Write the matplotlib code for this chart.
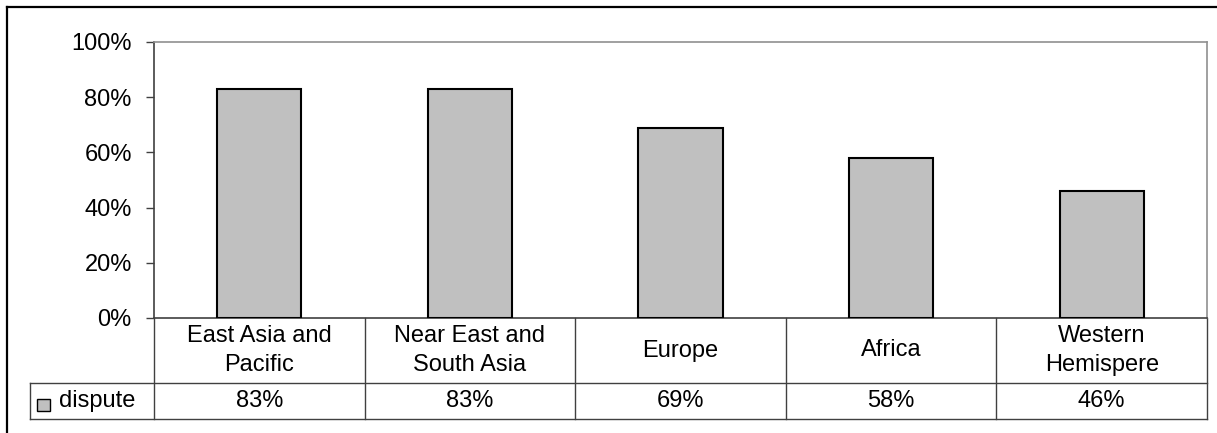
import matplotlib
matplotlib.use("Agg")
import matplotlib.pyplot as plt
from matplotlib.patches import Rectangle
from matplotlib.lines import Line2D
from matplotlib.transforms import blended_transform_factory

plt.rcParams['font.family'] = ['Liberation Sans', 'DejaVu Sans']

categories = ["East Asia and\nPacific", "Near East and\nSouth Asia", "Europe", "Africa", "Western\nHemispere"]
dispute = [83, 83, 69, 58, 46]
yticks = [0, 20, 40, 60, 80, 100]
series_name = "dispute"

FS = 17

W, H = 1217, 433
fig = plt.figure(figsize=(W / 100, H / 100), dpi=100)

def fx(px):
    return px / W

def fy(py):
    return 1 - py / H

# plot area in pixel geometry
left, right, top, zero = 154, 1207, 42, 318
ax = fig.add_axes([fx(left), fy(zero), fx(right - left), (zero - top) / H])

x = list(range(len(categories)))
ax.bar(x, dispute, width=0.4, color="#c0c0c0", edgecolor="black", linewidth=1.5, zorder=3)
ax.set_xlim(-0.5, len(categories) - 0.5)
ax.set_ylim(0, 100)
ax.set_yticks(yticks)
ax.set_yticklabels([f"{v}%" for v in yticks], fontsize=FS)
ax.set_xticks([])
ax.tick_params(axis="y", direction="out", length=6, width=1, color="#404040", pad=10)
for side in ["top", "right"]:
    ax.spines[side].set_color("#909090")
    ax.spines[side].set_linewidth(1.2)
ax.spines["left"].set_color("#404040")
ax.spines["left"].set_linewidth(1.2)
ax.spines["bottom"].set_color("#404040")
ax.spines["bottom"].set_linewidth(1.2)

# data table below the plot area
ah = zero - top
row1 = -(383 - zero) / ah
row2 = -(419 - zero) / ah
tr = blended_transform_factory(ax.transData, ax.transAxes)
lc = "#404040"
lw = 1.0
n = len(categories)
label_left = -0.5 - (left - 30) / ((right - left) / n)

def hline(x0, x1, y):
    ax.add_line(Line2D([x0, x1], [y, y], transform=tr, color=lc, lw=lw, clip_on=False))

def vline(xv, y0, y1):
    ax.add_line(Line2D([xv, xv], [y0, y1], transform=tr, color=lc, lw=lw, clip_on=False))

hline(label_left, n - 0.5, row1)
hline(label_left, n - 0.5, row2)
for i in range(n + 1):
    vline(i - 0.5, 0, row2)
vline(label_left, row1, row2)

for i, (cat, v) in enumerate(zip(categories, dispute)):
    ax.text(i, row1 / 2, cat, transform=tr, ha="center", va="center",
            fontsize=FS, linespacing=1.4)
    ax.text(i, (row1 + row2) / 2, f"{v}%", transform=tr, ha="center", va="center",
            fontsize=FS)

# legend key in the table row header
fig.patches.append(Rectangle((fx(37), fy(411)), fx(13), 12 / H, transform=fig.transFigure,
                             facecolor="#c0c0c0", edgecolor="black", linewidth=1.0))
fig.text(fx(59), fy(401), series_name, ha="left", va="center", fontsize=FS)

# chart frame
fig.add_artist(Line2D([fx(7), fx(7)], [fy(7), 0], transform=fig.transFigure, color="black", lw=1.6))
fig.add_artist(Line2D([fx(7), 1], [fy(7), fy(7)], transform=fig.transFigure, color="black", lw=1.6))

fig.savefig("out.png", dpi=100)
